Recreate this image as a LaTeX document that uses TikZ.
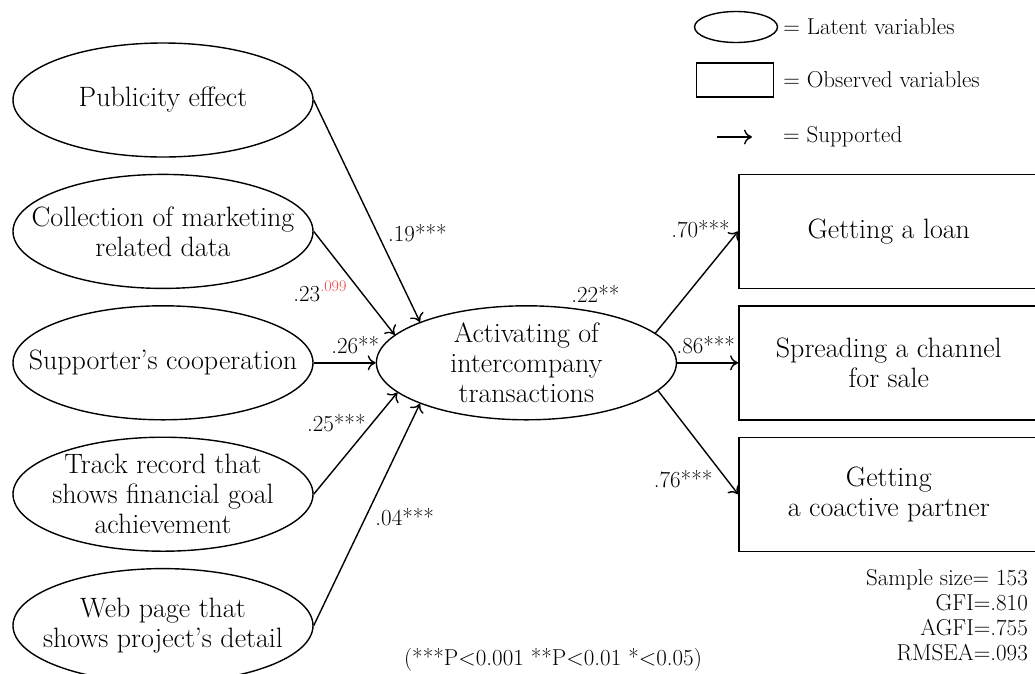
\documentclass[tikz,border=0pt]{standalone}
\usepackage{xcolor}
\usepackage{tikz}
\usetikzlibrary{shapes.geometric, arrows.meta, positioning}
\definecolor{pvalred}{RGB}{240,70,70}

\begin{document}
\begin{tikzpicture}[x=1pt, y=-1pt, node distance=16pt,
    latent/.style={ellipse, draw, line width=1.4pt, minimum width=300pt, minimum height=114pt, inner xsep=-50pt, inner ysep=-14pt, align=center, font=\fontsize{28}{30}\selectfont},
    observed/.style={rectangle, draw, line width=1.4pt, minimum width=300pt, minimum height=114pt, align=center, font=\fontsize{28}{30}\selectfont},
    coef/.style={inner sep=1pt, font=\fontsize{23}{25}\selectfont},
    legtext/.style={inner sep=0pt, font=\fontsize{23}{25}\selectfont},
    supported/.style={-{To[length=8pt,width=15pt]}, line width=1.4pt}]
\useasboundingbox (0,0) rectangle (1035,673);

\node[latent] (pub) at (163,100) {Publicity effect};
\node[latent] (coll) [below=of pub] {Collection of marketing\\related data};
\node[latent] (coop) [below=of coll] {Supporter's cooperation};
\node[latent] (track) [below=of coop] {Track record that\\shows financial goal\\achievement};
\node[latent] (web) [below=of track] {Web page that\\shows project's detail};

\node[latent] (act) [right=62pt of coop] {Activating of\\intercompany\\transactions};
\node[coef] (r2) [above=1pt of act.north, xshift=69pt] {.22**};

\node[observed] (channel) [right=61pt of act] {Spreading a channel\\for sale};
\node[observed] (loan) [above=of channel] {Getting a loan};
\node[observed] (partner) [below=of channel] {Getting\\a coactive partner};

\draw[supported] (pub.east) -- node[coef, pos=0.6, right=9pt] {.19***} (act.159);
\draw[supported] (coll.east) -- node[coef, pos=0.58, left=12pt] {.23\textsuperscript{\color{pvalred}.099}} (act.168);
\draw[supported] (coop.east) -- node[coef, pos=0.67, above=7pt] {.26**} (act.west);
\draw[supported] (track.east) -- node[coef, pos=0.7, left=5pt] {.25***} (act.193);
\draw[supported] (web.east) -- node[coef, pos=0.49, right=8pt] {.04***} (act.201);

\draw[supported] (act.13) -- node[coef, pos=0.92, anchor=south east] {.70***} (loan.west);
\draw[supported] (act.east) -- node[coef, pos=0.47, above=7pt] {.86***} (channel.west);
\draw[supported] (act.-12) -- node[coef, pos=0.85, left=12pt] {.76***} (partner.west);

\node[ellipse, draw, line width=1.4pt, minimum width=83pt, minimum height=31pt] (lglat) at (736,27) {};
\node[legtext] (lglattext) [right=5pt of lglat] {= Latent variables};
\node[rectangle, draw, line width=1.4pt, minimum width=77pt, minimum height=34pt] (lgobs) at (735,80) {};
\node[legtext] (lgobstext) [right=9pt of lgobs] {= Observed variables};
\coordinate (lgsa) at (717,137);
\coordinate (lgsb) at (752,137);
\draw[supported] (lgsa) -- (lgsb);
\node[legtext, anchor=west] (lgsuptext) at (783,137) {= Supported};

\node[coef, align=right, anchor=north east] (fitidx) at (1029,568) {Sample size= 153\\GFI=.810\\AGFI=.755\\RMSEA=.093};
\node[coef] (pnote) at (553,660) {(***P\textless0.001 **P\textless0.01 *\textless0.05)};
\end{tikzpicture}
\end{document}
